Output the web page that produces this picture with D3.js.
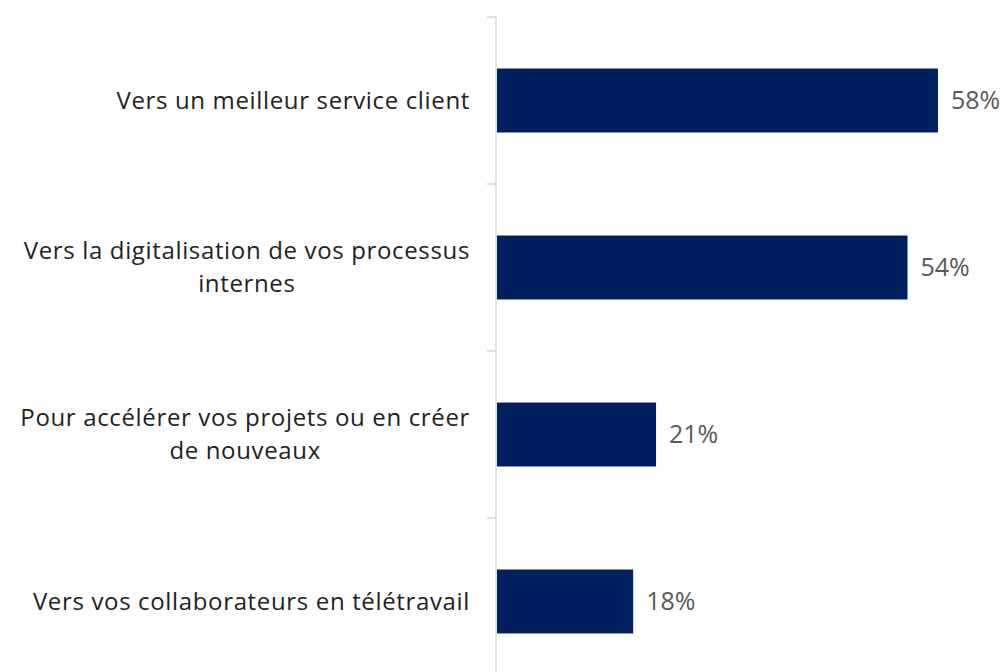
<!DOCTYPE html>
<html>
<head>
<meta charset="utf-8">
<script src="https://cdn.jsdelivr.net/npm/d3@7"></script>
<style>
  body { margin: 0; background: #fff; }
  .cat { font-family: "Open Sans", Lato, sans-serif; font-weight: 400; font-size: 24px; letter-spacing: 0.65px; fill: #222; }
  .val { font-family: "Open Sans", Lato, sans-serif; font-weight: 400; font-size: 25px; fill: #595959; }
</style>
</head>
<body>
<div class="chart"></div>
<script>
var categories = [
  ["Vers un meilleur service client"],
  ["Vers la digitalisation de vos processus", "internes"],
  ["Pour accélérer vos projets ou en créer", "de nouveaux"],
  ["Vers vos collaborateurs en télétravail"]
];
var values = [58, 54, 21, 18];

var svgWidth = 1008;
var svgHeight = 672;

var svg = d3.select(".chart")
  .append("svg")
  .attr("width", svgWidth)
  .attr("height", svgHeight);

var idx = d3.range(values.length);

var xScale = d3.scaleLinear()
  .domain([0, 58])
  .range([496, 938]);

var yScale = d3.scaleBand()
  .domain(idx)
  .range([17, 685])
  .padding(0);

var barH = yScale.bandwidth() * 0.383;

// axis line + ticks on band boundaries
var axisX = 496;
svg.append("line")
  .attr("x1", axisX).attr("x2", axisX)
  .attr("y1", 16).attr("y2", svgHeight)
  .attr("stroke", "#d9d9d9")
  .attr("stroke-width", 1.5);

var tickYs = idx.map(i => yScale(i)).concat([yScale.range()[1]]);
svg.selectAll(".tick")
  .data(tickYs)
  .enter()
  .append("line")
  .attr("x1", axisX - 9).attr("x2", axisX)
  .attr("y1", d => d).attr("y2", d => d)
  .attr("stroke", "#d9d9d9")
  .attr("stroke-width", 1.5);

svg.selectAll(".bar")
  .data(idx)
  .enter()
  .append("rect")
  .attr("x", xScale(0) + 1)
  .attr("y", i => yScale(i) + yScale.bandwidth() / 2 - barH / 2)
  .attr("width", i => xScale(values[i]) - xScale(0) - 1)
  .attr("height", barH)
  .attr("fill", "#002060");

svg.selectAll(".val")
  .data(idx)
  .enter()
  .append("text")
  .attr("class", "val")
  .attr("x", i => xScale(values[i]) + 13)
  .attr("y", i => yScale(i) + yScale.bandwidth() / 2)
  .attr("dy", "0.33em")
  .text(i => values[i] + "%");

// category labels: block right edge at 470, lines centered in block
var lineH = 33;
idx.forEach(function(i) {
  var lines = categories[i];
  var cy = yScale(i) + yScale.bandwidth() / 2;
  var g = svg.append("g");
  var texts = lines.map(function(s, k) {
    return g.append("text")
      .attr("class", "cat")
      .attr("text-anchor", "middle")
      .attr("y", cy + (k - (lines.length - 1) / 2) * lineH)
      .attr("dy", "0.35em")
      .text(s);
  });
  var w = d3.max(texts, t => t.node().getComputedTextLength());
  texts.forEach(t => t.attr("x", 470 - w / 2));
});
</script>
</body>
</html>
